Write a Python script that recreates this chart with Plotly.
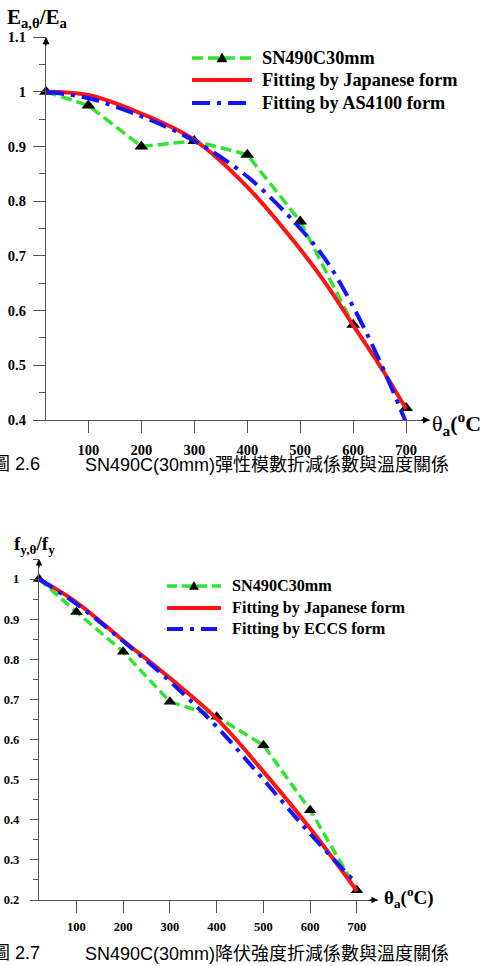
import plotly.graph_objects as go

# ---------------- data ----------------
# Fig 2.6 (elastic modulus)
e_exp_T = [20, 100, 200, 300, 400, 500, 600, 700]
e_exp_v = [1.0, 0.975, 0.900, 0.910, 0.885, 0.763, 0.574, 0.422]
e_fit_T = [20, 100, 200, 300, 400, 500, 550, 600, 650, 700]
e_jp_v = [1.0, 0.994, 0.960, 0.912, 0.826, 0.712, 0.647, 0.573, 0.500, 0.420]
e_as_T = [20, 100, 200, 300, 400, 500, 550, 600, 650, 700]
e_as_v = [1.0, 0.988, 0.955, 0.910, 0.845, 0.750, 0.690, 0.607, 0.508, 0.395]

# Fig 2.7 (yield strength)
f_exp_T = [20, 100, 200, 300, 400, 500, 600, 700]
f_exp_v = [1.0, 0.918, 0.819, 0.694, 0.657, 0.586, 0.424, 0.224]
f_fit_T = [20, 100, 200, 300, 400, 500, 600, 700]
f_jp_v = [1.0, 0.942, 0.847, 0.753, 0.652, 0.520, 0.378, 0.222]
f_ec_v = [1.0, 0.938, 0.845, 0.745, 0.632, 0.500, 0.365, 0.240]

x_ticks = [100, 200, 300, 400, 500, 600, 700]

names_top = ["SN490C30mm", "Fitting by Japanese form", "Fitting by AS4100 form"]
names_bot = ["SN490C30mm", "Fitting by Japanese form", "Fitting by ECCS form"]

captions = [("圖 2.6", "SN490C(30mm)", "彈性模數折減係數與溫度關係"),
            ("圖 2.7", "SN490C(30mm)", "降伏強度折減係數與溫度關係")]

# ---------------- style ----------------
W, H = 480, 966
# the page shows the paper 8px down and 950px tall
Y_OFF, Y_SPAN = 8.0, 950.0
SERIF = "Liberation Serif, Times New Roman, serif"
SANS = "Liberation Sans, Noto Sans CJK TC, sans-serif"
GREEN = "#2ee62e"
RED = "#ff1414"
BLUE = "#1414ff"
AX = "#555555"

GREEN_DASH = "11px,5px"
BLUE_DASH = "18px,7px,4px,7px"


def px_x(p):
    return p / W


def px_y(p):
    return 1 - (p - Y_OFF) / Y_SPAN


fig = go.Figure()

# top chart traces
fig.add_trace(go.Scatter(x=e_exp_T, y=e_exp_v, mode="lines+markers", name=names_top[0],
                         line=dict(color=GREEN, width=3.5, dash=GREEN_DASH),
                         marker=dict(symbol="triangle-up", size=12, color="black"),
                         cliponaxis=False, xaxis="x", yaxis="y", showlegend=False))
fig.add_trace(go.Scatter(x=e_fit_T, y=e_jp_v, mode="lines", name=names_top[1],
                         line=dict(color=RED, width=4, shape="spline"),
                         cliponaxis=False, xaxis="x", yaxis="y", showlegend=False))
fig.add_trace(go.Scatter(x=e_as_T, y=e_as_v, mode="lines", name=names_top[2],
                         line=dict(color=BLUE, width=4, dash=BLUE_DASH, shape="spline"),
                         cliponaxis=False, xaxis="x", yaxis="y", showlegend=False))

# bottom chart traces
fig.add_trace(go.Scatter(x=f_exp_T, y=f_exp_v, mode="lines+markers", name=names_bot[0],
                         line=dict(color=GREEN, width=3.5, dash="10px,5px"),
                         marker=dict(symbol="triangle-up", size=11, color="black"),
                         cliponaxis=False, xaxis="x2", yaxis="y2", showlegend=False))
fig.add_trace(go.Scatter(x=f_fit_T, y=f_jp_v, mode="lines", name=names_bot[1],
                         line=dict(color=RED, width=4, shape="spline"),
                         cliponaxis=False, xaxis="x2", yaxis="y2", showlegend=False))
fig.add_trace(go.Scatter(x=f_fit_T, y=f_ec_v, mode="lines", name=names_bot[2],
                         line=dict(color=BLUE, width=4, dash="16px,7px,4px,7px", shape="spline"),
                         cliponaxis=False, xaxis="x2", yaxis="y2", showlegend=False))

tickfont_top = dict(family=SERIF, size=14.5, color="black", weight="bold")
tickfont_bot = dict(family=SERIF, size=12.5, color="black", weight="bold")

common_ax = dict(showgrid=False, zeroline=False, showline=True, linecolor=AX, linewidth=1.3,
                 ticks="outside", tickcolor=AX, tickwidth=1.3, fixedrange=True)

fig.update_layout(
    width=W, height=H, autosize=False,
    margin=dict(l=0, r=0, t=0, b=0),
    paper_bgcolor="white", plot_bgcolor="white",
    xaxis=dict(domain=[px_x(46), px_x(430)], range=[20, 745], anchor="y",
               tickvals=x_ticks, ticklen=12, tickfont=tickfont_top, ticklabelstandoff=4,
               **common_ax),
    yaxis=dict(domain=[px_y(420), px_y(37)], range=[0.4, 1.1], anchor="x",
               tick0=0.4, dtick=0.1, tickformat=".2~f", ticklen=12, tickfont=tickfont_top,
               ticklabelstandoff=4,
               minor=dict(dtick=0.05, tick0=0.4, ticklen=6, ticks="outside", tickcolor=AX, tickwidth=1.3),
               **common_ax),
    xaxis2=dict(domain=[px_x(39), px_x(378)], range=[20, 745], anchor="y2",
                tickvals=x_ticks, ticklen=12, tickfont=tickfont_bot, ticklabelstandoff=3,
                **common_ax),
    yaxis2=dict(domain=[px_y(900), px_y(559)], range=[0.2, 1.05], anchor="x2",
                tick0=0.2, dtick=0.1, tickformat=".2~f", ticklen=8, tickfont=tickfont_bot,
                ticklabelstandoff=8,
                minor=dict(dtick=0.05, tick0=0.2, ticklen=5, ticks="outside", tickcolor=AX, tickwidth=1.3),
                **common_ax),
    showlegend=False,
)

ann = []
shapes = []


def add_legend(names, x0, x1, ys, tx, fsize, gdash, bdash, tri):
    styles = [dict(color=GREEN, width=3.5, dash=gdash),
              dict(color=RED, width=4),
              dict(color=BLUE, width=4, dash=bdash)]
    for name, yy, st in zip(names, ys, styles):
        shapes.append(dict(type="line", xref="paper", yref="paper",
                           x0=px_x(x0), x1=px_x(x1), y0=px_y(yy), y1=px_y(yy), line=st))
        ann.append(dict(x=px_x(tx), y=px_y(yy), xref="paper", yref="paper", xanchor="left",
                        yanchor="middle", text="<b>" + name + "</b>", showarrow=False,
                        font=dict(family=SERIF, size=fsize, color="black")))
    cx = (x0 + x1) / 2
    cy = ys[0]
    path = "M{:.5f},{:.5f} L{:.5f},{:.5f} L{:.5f},{:.5f} Z".format(
        px_x(cx - tri), px_y(cy + tri * 0.8), px_x(cx + tri), px_y(cy + tri * 0.8),
        px_x(cx), px_y(cy - tri * 1.0))
    shapes.append(dict(type="path", xref="paper", yref="paper", path=path,
                       fillcolor="black", line=dict(color="black", width=0.5)))


add_legend(names_top, 192, 252, [58, 80, 103], 260, 18.3, GREEN_DASH, BLUE_DASH, 5)
add_legend(names_bot, 167, 221, [586, 608, 629], 230, 16.2, "10px,5px", "16px,7px,4px,7px", 4.5)

# axis arrows
ann.append(dict(x=745, y=0.4, xref="x", yref="y", ax=-10, ay=0, text="", showarrow=True,
                arrowhead=2, arrowsize=1.1, arrowwidth=1.3, arrowcolor="black"))
ann.append(dict(x=20, y=1.1, xref="x", yref="y", ax=0, ay=10, text="", showarrow=True,
                arrowhead=2, arrowsize=1.1, arrowwidth=1.3, arrowcolor="black"))
ann.append(dict(x=745, y=0.2, xref="x2", yref="y2", ax=-10, ay=0, text="", showarrow=True,
                arrowhead=2, arrowsize=1.0, arrowwidth=1.3, arrowcolor="black"))
ann.append(dict(x=20, y=1.05, xref="x2", yref="y2", ax=0, ay=10, text="", showarrow=True,
                arrowhead=2, arrowsize=1.0, arrowwidth=1.3, arrowcolor="black"))

# axis titles
ann.append(dict(x=px_x(5), y=px_y(18), xref="paper", yref="paper", xanchor="left", yanchor="middle",
                text="<b>E<sub>a,θ</sub>/E<sub>a</sub></b>", showarrow=False,
                font=dict(family=SERIF, size=21, color="black")))
ann.append(dict(x=px_x(430), y=px_y(423), xref="paper", yref="paper", xanchor="left", yanchor="middle",
                text="θ<b><sub>a</sub>(<sup>o</sup>C)</b>", showarrow=False,
                font=dict(family=SERIF, size=22, color="black")))
ann.append(dict(x=px_x(12), y=px_y(545), xref="paper", yref="paper", xanchor="left", yanchor="middle",
                text="<b>f<sub>y,θ</sub>/f<sub>y</sub></b>", showarrow=False,
                font=dict(family=SERIF, size=19, color="black")))
ann.append(dict(x=px_x(382), y=px_y(897), xref="paper", yref="paper", xanchor="left", yanchor="middle",
                text="<b>θ<sub>a</sub>(<sup>o</sup>C)</b>", showarrow=False,
                font=dict(family=SERIF, size=19, color="black")))

# captions
for (fig_no, head, tail), yc in zip(captions, [464, 953]):
    ann.append(dict(x=px_x(-10), y=px_y(yc), xref="paper", yref="paper", xanchor="left", yanchor="middle",
                    text=fig_no, showarrow=False,
                    font=dict(family=SANS, size=18, color="black")))
    ann.append(dict(x=px_x(83), y=px_y(yc), xref="paper", yref="paper", xanchor="left", yanchor="middle",
                    text=head + tail, showarrow=False,
                    font=dict(family=SANS, size=18, color="black")))

fig.update_layout(annotations=ann, shapes=shapes)
fig.write_html("out.html")
